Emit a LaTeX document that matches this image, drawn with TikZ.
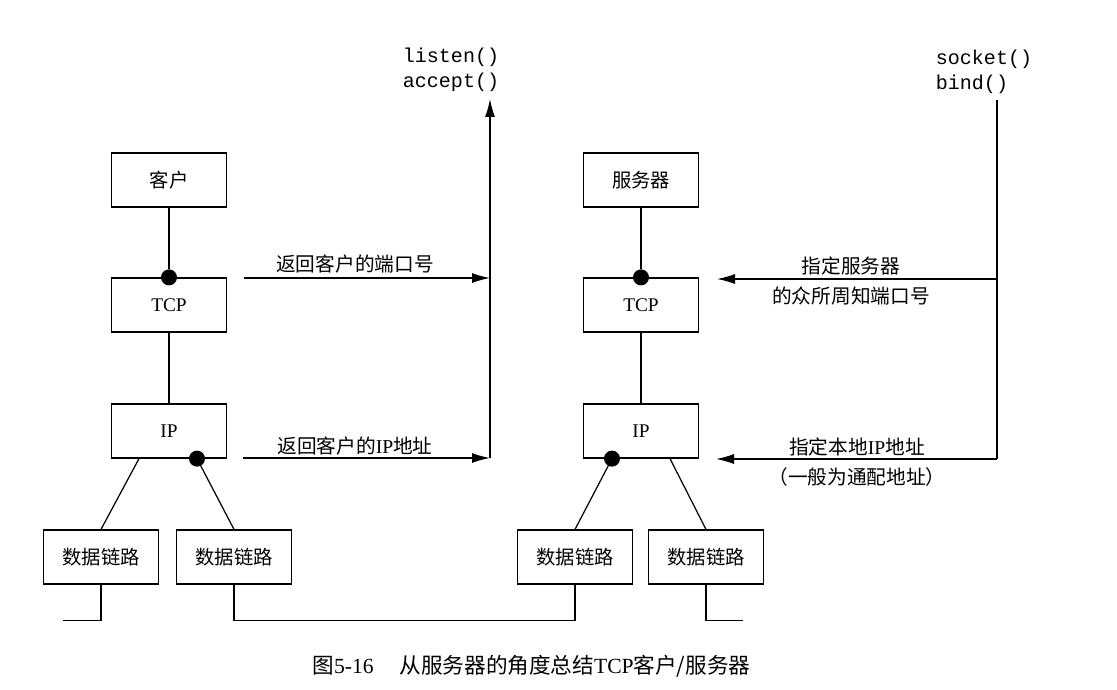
\documentclass[tikz,border=0pt]{standalone}
\usepackage{fontspec}
\setmainfont{Liberation Serif}
\setmonofont{Liberation Mono}
\newfontfamily\cjk{Noto Sans CJK SC}
\usetikzlibrary{arrows.meta}
\tikzset{
  layer/.style={draw, rectangle, align=center, minimum width=2.3cm, minimum height=1.08cm, font=\fontsize{11}{13}\selectfont},
  port/.style={circle, fill, inner sep=0pt, minimum size=0.32cm},
  note/.style={align=center, font=\cjk\fontsize{11.2}{17.3}\selectfont},
  calls/.style={align=left, font=\ttfamily\fontsize{11.4}{14.2}\selectfont},
  feed/.style={-{Latex[length=0.36cm, width=0.2cm]}}
}
\begin{document}
\begin{tikzpicture}[x=0.02cm, y=-0.02cm, line width=0.7pt]
\useasboundingbox (0,0) rectangle (1117,690);
\node[layer] (client) at (169,180) {\cjk 客户};
\node[layer] (ctcp) at (169,305) {TCP};
\node[layer] (cip) at (169,431) {IP};
\node[layer] (cdla) at (101,557) {\cjk 数据链路};
\node[layer] (cdlb) at (234,557) {\cjk 数据链路};
\node[layer] (server) at (641,180) {\cjk 服务器};
\node[layer] (stcp) at (641,305) {TCP};
\node[layer] (sip) at (641,431) {IP};
\node[layer] (sdla) at (575,557) {\cjk 数据链路};
\node[layer] (sdlb) at (706,557) {\cjk 数据链路};
\node[port] (ctcpdot) at (ctcp.north) {};
\node[port] (cipdot) at ([xshift=0.56cm]cip.south) {};
\node[port] (stcpdot) at (stcp.north) {};
\node[port] (sipdot) at ([xshift=-0.58cm]sip.south) {};
\coordinate (ciptap) at ([xshift=-0.6cm]cip.south);
\coordinate (siptap) at ([xshift=0.58cm]sip.south);
\draw (client) -- (ctcpdot);
\draw (ctcp) -- (cip);
\draw (ciptap) -- (cdla.north);
\draw (cipdot.center) -- (cdlb.north);
\draw (server) -- (stcpdot);
\draw (stcp) -- (sip);
\draw (sipdot.center) -- (sdla.north);
\draw (siptap) -- (sdlb.north);
\draw (cdla.south) -- ++(0,36) -- ++(-38,0);
\draw (cdlb.south) -- ++(0,36) -| (sdla.south);
\draw (sdlb.south) -- ++(0,36) -- ++(37,0);
\node[calls] (ccalls) at (451,70) {listen()\\accept()};
\coordinate (ctop) at (490,99);
\coordinate (cportfrom) at (244,278);
\coordinate (cportto) at (490,278);
\coordinate (caddrfrom) at (243,458);
\coordinate (caddrto) at (490,458);
\draw[feed] (cportfrom) -- (cportto);
\draw[feed] (caddrfrom) -- (caddrto);
\draw[feed] (caddrto) -- (ctop);
\node[note] (cportlbl) at (355,264) {返回客户的端口号};
\node[note] (caddrlbl) at (355,446) {返回客户的{\rmfamily IP}地址};
\node[calls] (scalls) at (984,72) {socket()\\bind()};
\coordinate (stop) at (997,100);
\coordinate (sportfrom) at (997,279);
\coordinate (sportto) at (717,279);
\coordinate (saddrfrom) at (997,459);
\coordinate (saddrto) at (716,459);
\draw (stop) -- (saddrfrom);
\draw[feed] (sportfrom) -- (sportto);
\draw[feed] (saddrfrom) -- (saddrto);
\node[note] (sportlbl) at (851,281) {指定服务器\\的众所周知端口号};
\node[note] (saddrlbl) at (857,462) {指定本地{\rmfamily IP}地址\\（一般为通配地址）};
\node[anchor=west, font=\cjk\fontsize{12.3}{14}\selectfont] (caption) at (306,666) {图{\rmfamily 5-16}\hspace{1.2em}从服务器的角度总结{\rmfamily TCP}客户/服务器};
\end{tikzpicture}
\end{document}
